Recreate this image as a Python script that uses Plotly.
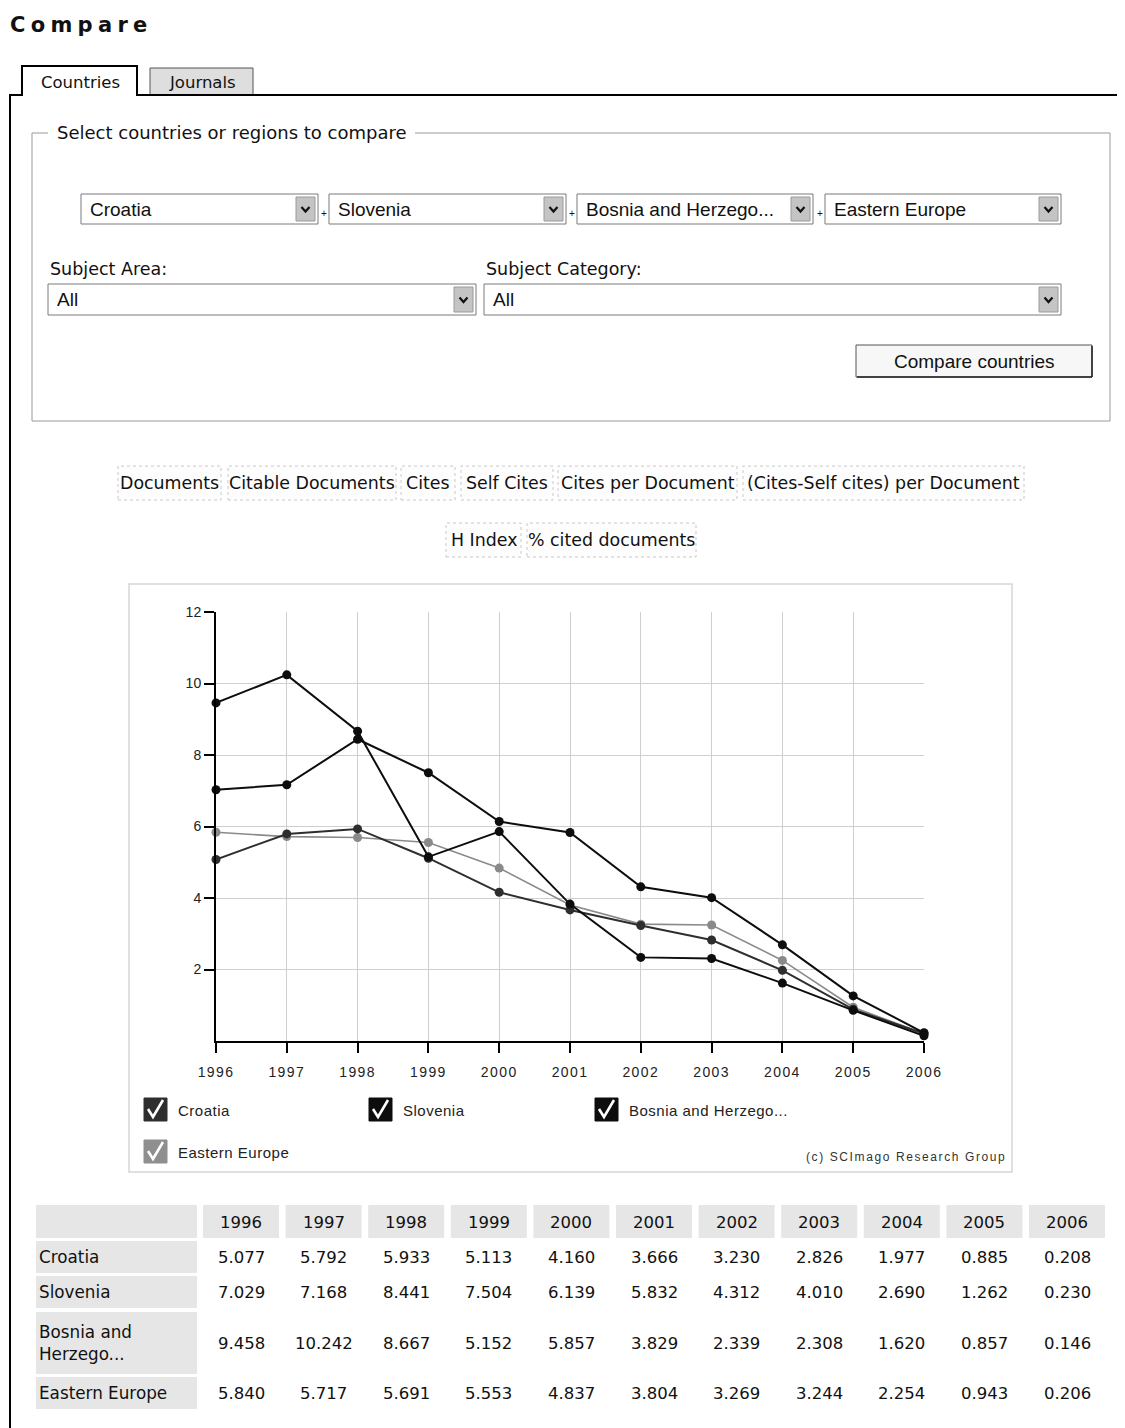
import plotly.graph_objects as go

# The page body has an 8px margin, so page pixel positions are shifted by that
# margin; the figure is made wide enough to reach the window's right edge.
PAGE_W, PAGE_H = 1125, 1428
OFF = 8
W, H = PAGE_W, PAGE_H - OFF

# ---------------- data ----------------
years = [1996, 1997, 1998, 1999, 2000, 2001, 2002, 2003, 2004, 2005, 2006]
series_names = ["Croatia", "Slovenia", "Bosnia and Herzego...", "Eastern Europe"]
table_row_labels = ["Croatia", "Slovenia", "Bosnia and<br>Herzego...", "Eastern Europe"]
croatia = [5.077, 5.792, 5.933, 5.113, 4.160, 3.666, 3.230, 2.826, 1.977, 0.885, 0.208]
slovenia = [7.029, 7.168, 8.441, 7.504, 6.139, 5.832, 4.312, 4.010, 2.690, 1.262, 0.230]
bosnia = [9.458, 10.242, 8.667, 5.152, 5.857, 3.829, 2.339, 2.308, 1.620, 0.857, 0.146]
eastern_europe = [5.840, 5.717, 5.691, 5.553, 4.837, 3.804, 3.269, 3.244, 2.254, 0.943, 0.206]
y_ticks = [2, 4, 6, 8, 10, 12]
metric_row1 = ["Documents", "Citable Documents", "Cites", "Self Cites",
               "Cites per Document", "(Cites-Self cites) per Document"]
metric_row2 = ["H Index", "% cited documents"]
dropdown_values = ["Croatia", "Slovenia", "Bosnia and Herzego...", "Eastern Europe"]

# ---------------- style ----------------
series_values = [croatia, slovenia, bosnia, eastern_europe]
series_colors = ["#2e2e2e", "#0d0d0d", "#0d0d0d", "#8a8a8a"]
line_widths = [2.0, 2.0, 2.0, 1.6]

SANS = "DejaVu Sans"
ARIAL = "Liberation Sans"

shapes = []
annotations = []


def X(px):
    return (px - OFF) / W


def Y(py):
    return 1 - (py - OFF) / H


def rect(x0, y0, x1, y1, fill=None, color="#000", lw=1, dash=None, layer="above"):
    ln = dict(color=color, width=lw)
    if dash:
        ln["dash"] = dash
    shapes.append(dict(type="rect", xref="paper", yref="paper",
                       x0=X(x0), x1=X(x1), y0=Y(y1), y1=Y(y0),
                       fillcolor=fill if fill else "rgba(0,0,0,0)",
                       line=ln, layer=layer))


def seg(x0, y0, x1, y1, color="#000", lw=1, layer="above"):
    shapes.append(dict(type="line", xref="paper", yref="paper",
                       x0=X(x0), x1=X(x1), y0=Y(y0), y1=Y(y1),
                       line=dict(color=color, width=lw), layer=layer))


def path(points, color="#000", lw=1):
    d = "M " + " L ".join(f"{X(a):.5f},{Y(b):.5f}" for a, b in points)
    shapes.append(dict(type="path", xref="paper", yref="paper", path=d,
                       line=dict(color=color, width=lw), layer="above"))


def text(x, y, s, size=15, family=SANS, color="#111", anchor="left"):
    annotations.append(dict(x=X(x), y=Y(y), xref="paper", yref="paper",
                            text=s, showarrow=False, xanchor=anchor, yanchor="middle",
                            font=dict(family=family, size=size, color=color)))


def spaced(s, px):
    return f'<span style="letter-spacing:{px}px">{s}</span>'


# ---------------- page header ----------------
text(8, 25, "<b>" + spaced("Compare", 5.3) + "</b>", size=21, family=SANS, color="#111")

# tabs and frame
rect(150, 68, 253, 95, fill="#dedede", color="#555", lw=1)
text(202, 82, "Journals", size=16.5, family=SANS, anchor="center")
path([(10, 1430), (10, 95), (22, 95), (22, 66), (137, 66), (137, 95), (1130, 95)], color="#000", lw=2)
text(80, 82, "Countries", size=16.5, family=SANS, anchor="center")

# fieldset
seg(32, 133, 32, 421, color="#999")
seg(32, 421, 1110, 421, color="#999")
seg(1110, 133, 1110, 421, color="#999")
seg(32, 133, 48, 133, color="#999")
seg(415, 133, 1110, 133, color="#999")
text(55, 133, "Select countries or regions to compare", size=18, family=SANS)


def dropdown(x0, y0, x1, y1, label):
    rect(x0, y0, x1, y1, fill="#ffffff", color="#7a7a7a", lw=1)
    rect(x1 - 22, y0 + 3, x1 - 3, y1 - 3, fill="#c4c4c4", color="#9a9a9a", lw=1)
    cx, cy = x1 - 12.5, (y0 + y1) / 2
    path([(cx - 4, cy - 2), (cx, cy + 2.5), (cx + 4, cy - 2)], color="#111", lw=2.2)
    text(x0 + 7, (y0 + y1) / 2, label, size=19, family=ARIAL, color="#111")


dd_x = [(81, 318), (329, 566), (577, 813), (825, 1061)]
for (a, b), lab in zip(dd_x, dropdown_values):
    dropdown(a, 194, b, 224, lab)
for px in [323.5, 571.5, 819.5]:
    text(px, 213, "+", size=10, family=ARIAL, anchor="center")

text(48, 269, "Subject Area:", size=17.5, family=SANS)
text(484, 269, "Subject Category:", size=17.5, family=SANS)
dropdown(48, 284, 476, 315, "All")
dropdown(484, 284, 1061, 315, "All")

# compare button
rect(856, 345, 1092, 377, fill="#f7f7f7", color="#555", lw=1)
seg(857, 377, 1092, 377, color="#222", lw=1.5)
seg(1092, 346, 1092, 377, color="#222", lw=1.5)
text(974, 361, "Compare countries", size=19, family=ARIAL, anchor="center")

# metric buttons
row1_x = [(118, 221), (228, 396), (401, 455), (461, 553), (558, 737), (743, 1024)]
for (a, b), lab in zip(row1_x, metric_row1):
    rect(a, 466, b, 500, fill="#fdfdfd", color="#c8c8c8", lw=1, dash="dot")
    text((a + b) / 2, 483, lab, size=17.4, family=SANS, anchor="center")
row2_x = [(446, 521), (527, 696)]
for (a, b), lab in zip(row2_x, metric_row2):
    rect(a, 523, b, 557, fill="#fdfdfd", color="#c8c8c8", lw=1, dash="dot")
    text((a + b) / 2, 540, lab, size=17.4, family=SANS, anchor="center")

# chart container
rect(129, 584, 1012, 1172, color="#d6d6d6", lw=1.5, layer="below")

# legend with check boxes
legend_pos = [(144, 1110), (369, 1110), (595, 1110), (144, 1152)]
for (lx, ly), name, col in zip(legend_pos, series_names, series_colors):
    box_col = col if col != "#8a8a8a" else "#8f8f8f"
    rect(lx, ly - 12, lx + 23, ly + 11, fill=box_col, color=box_col, lw=1)
    path([(lx + 4, ly - 1), (lx + 9, ly + 7), (lx + 19, ly - 10)], color="#ffffff", lw=2.6)
    text(lx + 32, ly, spaced(name, 0.5), size=15, family=ARIAL, color="#222")

text(1008, 1157, spaced("(c) SCImago Research Group", 1.6),
     size=12, family=ARIAL, color="#333", anchor="right")

# ---------------- table ----------------
col_centers = [241 + i * 82.6 for i in range(len(years))]
row_spans = [(1241, 1273), (1276, 1308), (1312, 1374), (1377, 1409)]
rect(36, 1205, 197, 1238, fill="#e6e6e6", lw=0, layer="below")
for c, yr in zip(col_centers, years):
    rect(c - 38, 1205, c + 38, 1238, fill="#e6e6e6", lw=0, layer="below")
    text(c, 1222, str(yr), size=16.5, family=SANS, color="#111", anchor="center")
for (r0, r1), lab, vals in zip(row_spans, table_row_labels, series_values):
    rect(36, r0, 197, r1, fill="#e6e6e6", lw=0, layer="below")
    cy = (r0 + r1) / 2
    annotations.append(dict(x=X(37), y=Y(cy), xref="paper", yref="paper",
                            text=lab, showarrow=False, xanchor="left", yanchor="middle",
                            align="left",
                            font=dict(family=SANS, size=16.8, color="#111")))
    for c, v in zip(col_centers, vals):
        text(c, cy, f"{v:.3f}", size=16.5, family=SANS, color="#111", anchor="center")

# ---------------- chart traces ----------------
fig = go.Figure()
draw_order = [3, 0, 1, 2]
for i in draw_order:
    fig.add_trace(go.Scatter(
        x=years, y=series_values[i], mode="lines+markers", name=series_names[i],
        line=dict(color=series_colors[i], width=line_widths[i]),
        marker=dict(color=series_colors[i], size=9),
        cliponaxis=False, showlegend=False, hoverinfo="x+y+name"))

fig.update_layout(
    template="none",
    width=W, height=H,
    autosize=False,
    margin=dict(l=0, r=0, t=0, b=0, pad=0),
    paper_bgcolor="#ffffff",
    plot_bgcolor="rgba(0,0,0,0)",
    showlegend=False,
    shapes=shapes,
    annotations=annotations,
    xaxis=dict(domain=[X(216), X(924)], range=[1996, 2006], automargin=False,
               tickvals=years, ticktext=[spaced(str(y), 1.4) for y in years],
               showgrid=True, gridcolor="#cfcfcf", gridwidth=1,
               showline=True, linecolor="#000", linewidth=2,
               ticks="outside", ticklen=10, tickwidth=1.5, tickcolor="#000",
               ticklabelstandoff=7,
               tickfont=dict(family=ARIAL, size=14, color="#222"),
               zeroline=False, fixedrange=True),
    yaxis=dict(domain=[Y(1041), Y(612)], range=[0, 12], automargin=False,
               tickvals=y_ticks, ticktext=[str(v) for v in y_ticks],
               showgrid=True, gridcolor="#cfcfcf", gridwidth=1,
               showline=True, linecolor="#000", linewidth=2,
               ticks="outside", ticklen=10, tickwidth=1.5, tickcolor="#000",
               tickfont=dict(family=ARIAL, size=14, color="#222"),
               zeroline=False, fixedrange=True),
)

fig.write_html("out.html")
